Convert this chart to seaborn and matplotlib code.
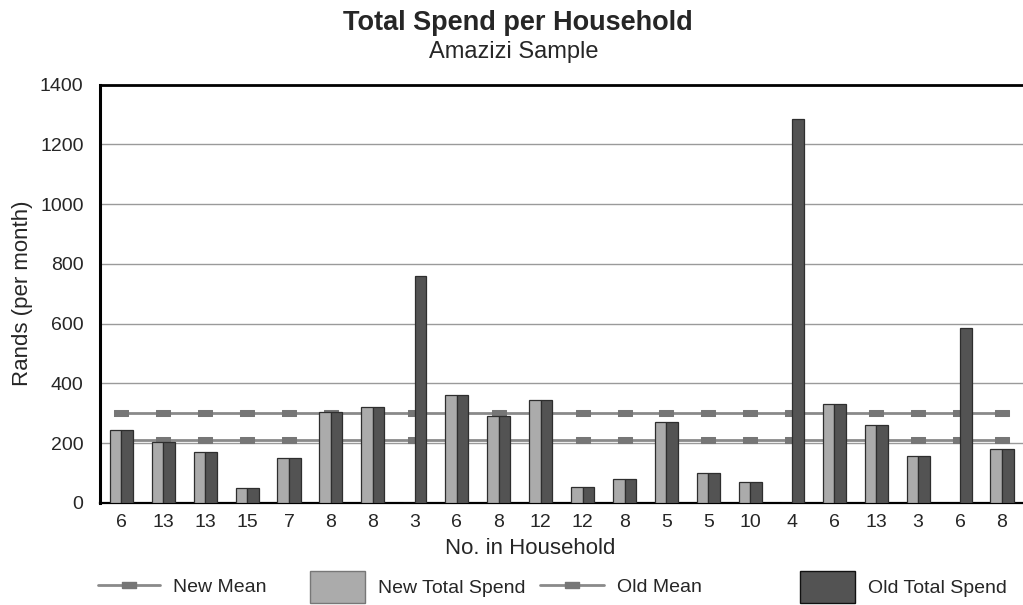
import numpy as np
import pandas as pd
import matplotlib
matplotlib.use("Agg")
import matplotlib.pyplot as plt
import seaborn as sns
from matplotlib.lines import Line2D
from matplotlib.patches import Patch
from matplotlib.ticker import MultipleLocator

# Household sizes (category labels) and monthly spend in Rands
household_sizes = ["6", "13", "13", "15", "7", "8", "8", "3", "6", "8", "12",
                   "12", "8", "5", "5", "10", "4", "6", "13", "3", "6", "8"]
old_total = [245, 205, 170, 50, 150, 305, 320, 760, 360, 290, 345,
             52, 78, 270, 100, 70, 1285, 330, 260, 155, 585, 180]
new_total = [245, 205, 170, 50, 150, 305, 320, 0, 360, 290, 345,
             52, 78, 270, 100, 70, 0, 330, 260, 155, 0, 180]
old_mean = 300
new_mean = 210

sns.set_theme(style="white")
plt.rcParams["font.family"] = ["Liberation Sans", "DejaVu Sans"]

n = len(household_sizes)
df = pd.DataFrame({
    "hh": list(range(n)) * 2,
    "spend": new_total + old_total,
    "series": ["New Total Spend"] * n + ["Old Total Spend"] * n,
})

light = "#ababab"
dark = "#535353"
line_col = "#8a8a8a"
mark_col = "#767676"

fig = plt.figure(figsize=(10.23, 6.05), dpi=100)
ax = fig.add_axes([0.098, 0.169, 0.902, 0.691])

sns.barplot(data=df, x="hh", y="spend", hue="series",
            palette={"New Total Spend": light, "Old Total Spend": dark},
            width=0.55, dodge=True, errorbar=None, legend=False,
            edgecolor="#2e2e2e", linewidth=0.9, zorder=3, ax=ax)

# rectangular marker used on the mean lines
rect = [(-1, -0.45), (1, -0.45), (1, 0.45), (-1, 0.45), (-1, -0.45)]
xs = np.arange(n)
for val in (old_mean, new_mean):
    sns.lineplot(x=xs, y=[val] * n, ax=ax, color=line_col, lw=2,
                 marker=rect, markersize=10, markerfacecolor=mark_col,
                 markeredgecolor=mark_col, zorder=2)

ax.set_xlim(-0.5, n - 0.5)
ax.set_ylim(0, 1400)
ax.yaxis.set_major_locator(MultipleLocator(200))
ax.yaxis.set_minor_locator(MultipleLocator(100))
ax.yaxis.grid(True, color="#9a9a9a", lw=1)
ax.set_axisbelow(True)

ax.set_xticks(xs)
ax.set_xticklabels(household_sizes)
ax.set_xticks(np.arange(0.5, n - 0.5), minor=True)
ax.tick_params(axis="x", which="major", length=0, pad=8, labelsize=14)
ax.tick_params(axis="x", which="minor", length=7, width=1, direction="inout",
               color="#999999")
ax.tick_params(axis="y", which="major", length=8, width=1, direction="inout",
               color="#888888", labelsize=14, pad=8)
ax.tick_params(axis="y", which="minor", length=6, width=1, direction="inout",
               color="#999999")

for side, lw in (("left", 2.2), ("bottom", 1.6), ("top", 2.0)):
    ax.spines[side].set_visible(True)
    ax.spines[side].set_color("black")
    ax.spines[side].set_linewidth(lw)
ax.spines["right"].set_visible(False)

ax.set_xlabel("No. in Household", fontsize=16)
ax.xaxis.set_label_coords(0.466, -0.084)
ax.set_ylabel("Rands (per month)", fontsize=16)
ax.yaxis.set_label_coords(-0.073, 0.5)

fig.text(0.506, 0.962, "Total Spend per Household", ha="center", va="center",
         fontsize=19.5, fontweight="bold")
fig.text(0.502, 0.914, "Amazizi Sample", ha="center", va="center", fontsize=17)

# Legend entries placed individually along the bottom
line_kw = dict(color=line_col, lw=2, marker=rect, markersize=10,
               markerfacecolor=mark_col, markeredgecolor=mark_col)
entries = [
    (Line2D([], [], **line_kw), "New Mean", 0.096, 3.2, 0.7),
    (Patch(facecolor=light, edgecolor="#777777"), "New Total Spend", 0.303, 2.85, 2.1),
    (Line2D([], [], **line_kw), "Old Mean", 0.528, 3.3, 0.7),
    (Patch(facecolor=dark, edgecolor="#111111"), "Old Total Spend", 0.782, 2.85, 2.1),
]
for handle, label, x0, hl, hh in entries:
    fig.legend([handle], [label], loc="center left",
               bbox_to_anchor=(x0, 0.03), frameon=False, fontsize=14,
               handlelength=hl, handleheight=hh, handletextpad=0.65,
               borderpad=0, borderaxespad=0)

fig.savefig("out.png", dpi=100)
